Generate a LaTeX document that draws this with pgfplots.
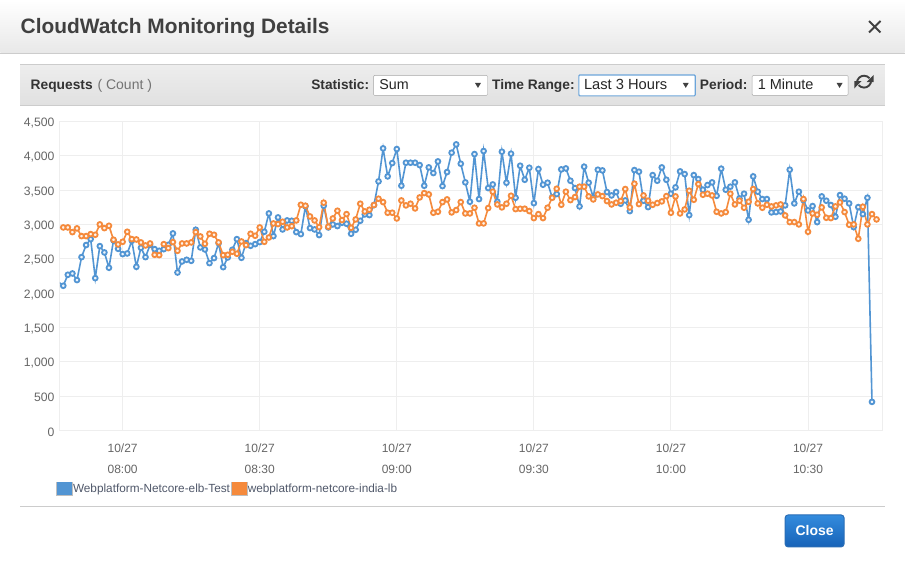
\documentclass[border=0pt]{standalone}
\usepackage{pgfplots}
\usepackage{pgfplotstable}
\usepackage{fontspec}
\setmainfont{Liberation Sans}
\pgfplotsset{compat=1.18}
\definecolor{serA}{HTML}{5295D3}
\definecolor{serB}{HTML}{F58A3C}
\definecolor{gridc}{HTML}{EEEEEE}
\definecolor{tickc}{HTML}{666666}
\definecolor{btnT}{HTML}{338BDD}
\definecolor{btnB}{HTML}{1763B8}
\definecolor{btnE}{HTML}{2A6DB5}
\definecolor{legt}{HTML}{50586A}
\pgfplotstableread{
t v
-13 2107
-12 2267
-11 2286
-10 2190
-9 2524
-8 2700
-7 2786
-6 2218
-5 2684
-4 2592
-3 2369
-2 2767
-1 2645
0 2568
1 2577
2 2762
3 2383
4 2660
5 2524
6 2703
7 2640
8 2616
9 2640
10 2703
11 2869
12 2300
13 2461
14 2485
15 2470
16 2922
17 2665
18 2636
19 2437
20 2510
21 2728
22 2378
23 2519
24 2631
25 2786
26 2514
27 2728
28 2689
29 2713
30 2743
31 2893
32 3160
33 2830
34 3102
35 2927
36 3058
37 3053
38 2888
39 2859
40 3262
41 2947
42 2927
43 2845
44 3272
45 2956
46 3000
47 2976
48 3024
49 3010
50 2864
51 2922
52 3053
53 3146
54 3136
55 3282
56 3626
57 4107
58 3699
59 3893
60 4097
61 3563
62 3898
63 3898
64 3898
65 3864
66 3563
67 3830
68 3748
69 3917
70 3558
71 3762
72 4044
73 4165
74 3883
75 3612
76 3330
77 4024
78 3369
79 4068
80 3529
81 3582
82 3330
83 4058
84 3607
85 4029
86 3388
87 3854
88 3650
89 3825
90 3310
91 3806
92 3578
93 3607
94 3393
95 3442
96 3801
97 3815
98 3636
99 3529
100 3262
101 3840
102 3607
103 3393
104 3796
105 3786
106 3471
107 3422
108 3471
109 3301
110 3349
111 3194
112 3791
113 3767
114 3345
115 3252
116 3718
117 3636
118 3830
119 3650
120 3447
121 3539
122 3772
123 3733
124 3136
125 3718
126 3660
127 3505
128 3573
129 3612
130 3417
131 3811
132 3505
133 3549
134 3612
135 3379
136 3447
137 3068
138 3699
139 3476
140 3369
141 3369
142 3175
143 3180
144 3189
145 3277
146 3796
147 3306
148 3476
149 3354
150 3204
151 3267
152 3034
153 3408
154 3345
155 3282
156 3112
157 3427
158 3374
159 3306
160 2961
161 3252
162 3150
163 3388
164 417
}\tblA
\pgfplotstableread{
t v
-13 2956
-12 2956
-11 2888
-10 2942
-9 2830
-8 2830
-7 2859
-6 2849
-5 3000
-4 2946
-3 2980
-2 2777
-1 2709
0 2747
1 2893
2 2786
3 2781
4 2738
5 2694
6 2723
7 2558
8 2553
9 2713
10 2655
11 2743
12 2616
13 2723
14 2723
15 2738
16 2888
17 2825
18 2718
19 2864
20 2849
21 2738
22 2553
23 2558
24 2602
25 2573
26 2752
27 2699
28 2864
29 2835
30 2956
31 2747
32 2810
33 3014
34 3005
35 3039
36 2956
37 2975
38 3058
39 3286
40 3272
41 3116
42 3058
43 2961
44 3316
45 2966
46 3087
47 3199
48 3063
49 3150
50 2951
51 3073
52 3301
53 3189
54 3214
55 3282
56 3374
57 3325
58 3170
59 3170
60 3087
61 3349
62 3277
63 3301
64 3233
65 3393
66 3456
67 3437
68 3170
69 3184
70 3325
71 3364
72 3175
73 3209
74 3325
75 3160
76 3160
77 3243
78 3015
79 3015
80 3238
81 3476
82 3291
83 3248
84 3301
85 3417
86 3223
87 3228
88 3228
89 3194
90 3092
91 3150
92 3092
93 3243
94 3388
95 3519
96 3286
97 3476
98 3354
99 3398
100 3549
101 3549
102 3408
103 3364
104 3437
105 3412
106 3340
107 3291
108 3316
109 3340
110 3515
111 3248
112 3592
113 3296
114 3422
115 3345
116 3286
117 3311
118 3335
119 3412
120 3170
121 3408
122 3160
123 3218
124 3490
125 3359
126 3587
127 3432
128 3447
129 3422
130 3184
131 3160
132 3180
133 3447
134 3291
135 3345
136 3243
137 3330
138 3515
139 3306
140 3243
141 3286
142 3262
143 3277
144 3291
145 3131
146 3034
147 3034
148 3000
149 3369
150 2893
151 3160
152 3141
153 3248
154 3097
155 3092
156 3262
157 3320
158 3180
159 2995
160 3000
161 2791
162 3257
163 3000
164 3150
165 3073
}\tblB
\begin{document}
\begin{tikzpicture}
\begin{scope}[x=1pt,y=-1pt]
\path[fill=white] (0,0) rectangle (905,561);
\shade[top color=white,bottom color=black!9] (0,0) rectangle (905,53);
\draw[black!20,line width=1pt] (0,53.5) -- (905,53.5);
\node[anchor=base west,inner sep=0pt,text=black!75] at (20,33.5) {\fontsize{20.9}{24}\selectfont\bfseries CloudWatch Monitoring Details};
\draw[black!75,line width=1.9pt] (869.5,21) -- (881,32.5) (881,21) -- (869.5,32.5);
% toolbar
\shade[top color=black!7,bottom color=black!12] (20,64.5) rectangle (885,106);
\draw[black!20,line width=1pt] (20,64.5) -- (885,64.5) (20,106) -- (885,106);
\node[anchor=base west,inner sep=0pt,text=black!80] at (30,90) {\fontsize{13.8}{15}\selectfont\bfseries Requests};
\node[anchor=base west,inner sep=0pt,text=black!55] at (97,90) {\fontsize{14}{15}\selectfont ( Count )};
\node[anchor=base west,inner sep=0pt,text=black!80] at (311,90) {\fontsize{13.7}{15}\selectfont\bfseries Statistic:};
\node[anchor=base west,inner sep=0pt,text=black!80] at (492,90) {\fontsize{13.8}{15}\selectfont\bfseries Time Range:};
\node[anchor=base west,inner sep=0pt,text=black!80] at (700,90) {\fontsize{13.8}{15}\selectfont\bfseries Period:};
\draw[fill=white,draw=black!35,rounded corners=1pt] (373.5,75.5) rectangle (487.5,95.5);
\draw[fill=white,draw=black!35,rounded corners=1pt] (752.5,75.5) rectangle (848.5,95.5);
\draw[fill=white,draw=serA!85,line width=1.2pt,rounded corners=1pt] (579,75) rectangle (695.5,96);
\node[anchor=base west,inner sep=0pt,text=black!85] at (379,90) {\fontsize{14.3}{15}\selectfont Sum};
\node[anchor=base west,inner sep=0pt,text=black!85] at (584,90) {\fontsize{14.7}{15}\selectfont Last 3 Hours};
\node[anchor=base west,inner sep=0pt,text=black!85] at (758,90) {\fontsize{14.5}{15}\selectfont 1 Minute};
\foreach \ax in {478,686,840}{\fill[black!75] (\ax-3,83) -- (\ax+3,83) -- (\ax,88) -- cycle;}
% refresh icon
\draw[black!75,line width=1.9pt] (857.3,83.5) .. controls (857.3,78.5) and (861,75.8) .. (864.5,75.8) .. controls (866.8,75.8) and (868.5,76.8) .. (870,78.3);
\draw[black!75,line width=1.9pt] (871.7,80) .. controls (871.7,85) and (868,87.7) .. (864.5,87.7) .. controls (862.2,87.7) and (860.5,86.7) .. (859,85.2);
\fill[black!75] (874.2,75) -- (874.2,82.3) -- (867,82.3) -- cycle;
\fill[black!75] (854.8,88.5) -- (854.8,81.2) -- (862,81.2) -- cycle;
% footer
\draw[black!20,line width=1pt] (20,507.5) -- (885,507.5);
\shade[top color=btnT,bottom color=btnB,rounded corners=3pt] (785.5,515.5) rectangle (844.5,547.5);
\draw[btnE,line width=1pt,rounded corners=3pt] (785.5,515.5) rectangle (844.5,547.5);
\node[anchor=base,inner sep=0pt,text=white] at (815,536) {\fontsize{14}{16}\selectfont\bfseries Close};
\end{scope}
\begin{axis}[
  at={(59.5pt,-431pt)},anchor=south west,
  scale only axis,width=823pt,height=309.5pt,
  xmin=-13.73,xmax=166.2,ymin=0,ymax=4500,
  clip=true,
  axis line style={draw=gridc,line width=1pt},
  grid=major,grid style={draw=gridc,line width=1pt},
  major tick length=0pt,
  tick style={draw=none},
  axis on top=false,
  xtick={0,30,60,90,120,150},
  xticklabels={{10/27\\[8.5pt]08:00},{10/27\\[8.5pt]08:30},{10/27\\[8.5pt]09:00},{10/27\\[8.5pt]09:30},{10/27\\[8.5pt]10:00},{10/27\\[8.5pt]10:30}},
  xticklabel style={align=center,text=tickc,font=\fontsize{12}{13}\selectfont,yshift=-9.5pt},
  ytick={0,500,1000,1500,2000,2500,3000,3500,4000,4500},
  yticklabel style={text=tickc,font=\fontsize{12.2}{13}\selectfont,xshift=-2pt,yshift=-1.5pt},
  /pgf/number format/assume math mode=true,
  /pgf/number format/1000 sep={,},
  scaled y ticks=false,
  legend columns=2,
  legend style={draw=none,fill=none,at={(-0.0045,-0.165)},anchor=north west,
    font=\fontsize{11.8}{13}\selectfont,text=legt,
    inner sep=0pt,outer sep=0pt,
    /tikz/every even column/.append style={column sep=1pt},
    nodes={inner sep=0pt,anchor=base west}},
  legend cell align=left,
]
\pgfplotsset{
  sw/.style={legend image code/.code={
    \draw[draw=black!25,line width=0.8pt,fill=white] (0pt,-2.5pt) rectangle (16pt,11pt);
    \fill[#1] (1.2pt,-1.3pt) rectangle (14.8pt,9.8pt);
  }},
  ser/.style={color=#1,line width=1.6pt,mark=*,mark size=2.4pt,
    mark options={draw=#1,fill=#1!10!white,line width=1.8pt,solid}},
}
\addplot[serA,line width=1.6pt,forget plot] coordinates {(-14,2160) (-13,2107)};
\addplot[ser=serA,sw=serA] table[x=t,y=v] {\tblA};
\addlegendentry{Webplatform-Netcore-elb-Test}
\addplot[ser=serB,sw=serB] table[x=t,y=v] {\tblB};
\addlegendentry{webplatform-netcore-india-lb}
\end{axis}
\end{tikzpicture}
\end{document}
